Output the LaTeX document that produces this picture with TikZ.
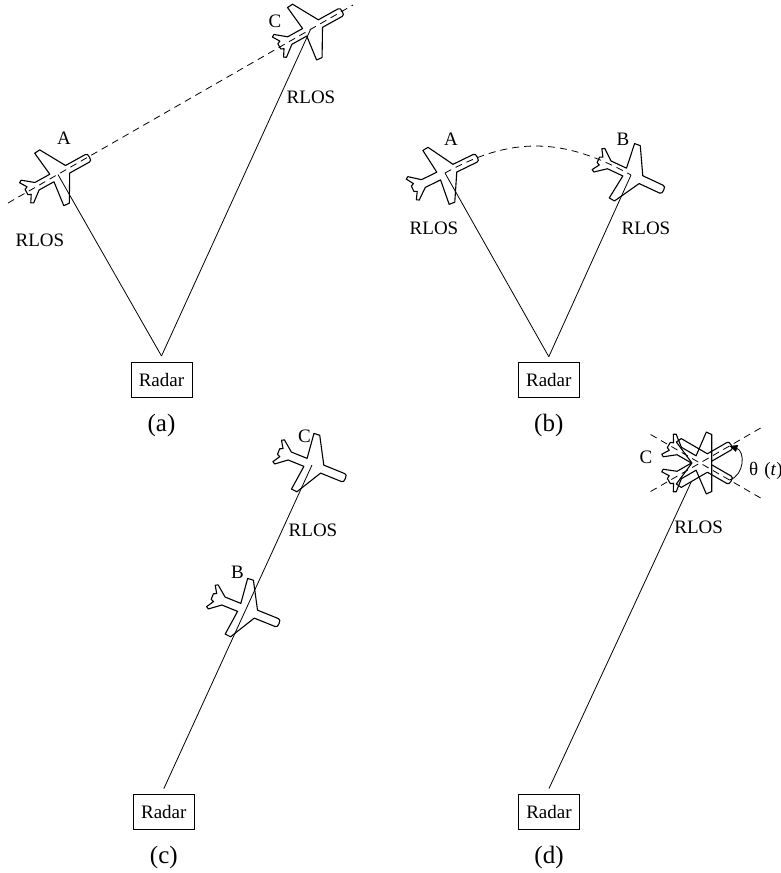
\documentclass[tikz,border=0pt]{standalone}
\usepackage{fontspec}
\setmainfont{Liberation Serif}
\usetikzlibrary{arrows.meta}
\newcommand\myplanepath{(36,0) -- (35.5,3.2) -- (33.5,4.3) -- (11,4.3) -- (-4,30.5) -- (-10,30) -- (-7,4.3) -- (-24,4.3) -- (-35,13) -- (-37.5,11.5) -- (-33,4.3) -- (-36,3) -- (-36,-3) -- (-33,-4.3) -- (-37.5,-11.5) -- (-35,-13) -- (-24,-4.3) -- (-7,-4.3) -- (-10,-30) -- (-4,-30.5) -- (11,-4.3) -- (33.5,-4.3) -- (35.5,-3.2) -- cycle}
\begin{document}
\begin{tikzpicture}[x=1pt,y=-1pt,
  rlos/.style={line width=0.8pt},
  traj/.style={line width=0.8pt, dash pattern=on 7pt off 5pt},
  radarbox/.style={draw, line width=0.8pt, minimum width=61pt, minimum height=35pt, inner sep=0pt, outer xsep=0pt, outer ysep=6pt, font=\fontsize{19}{22}\selectfont},
  lbl/.style={inner sep=0pt, font=\fontsize{19}{22}\selectfont},
  subcap/.style={inner sep=0pt, font=\fontsize{25}{30}\selectfont},
  plane/.pic={\filldraw[fill=white, line width=1.1pt, line join=round] \myplanepath;},
  planefill/.pic={\fill[white] \myplanepath;},
  planeline/.pic={\draw[line width=1.1pt, line join=round] \myplanepath;}]
\useasboundingbox (0,0) rectangle (780,873);

% ---------- (a) ----------
\coordinate (Aa) at (58,174.6);
\coordinate (Ca) at (310.8,28.9);
\pic[rotate=29] at (Aa) {plane};
\pic[rotate=29] at (Ca) {plane};
\node[radarbox] (Ra) at (161.5,379.5) {Radar};
\draw[rlos] (Ra.north) -- (Aa);
\draw[rlos] (Ra.north) -- (Ca);
\coordinate (da1) at (8,203);
\coordinate (da2) at (353,5);
\draw[traj] (da1) -- (da2);
\node[lbl] (la) at (64,138) {A};
\node[lbl] (lc) at (275,21) {C};
\node[lbl] (rlos1) at (40,240) {RLOS};
\node[lbl] (rlos2) at (311,97.5) {RLOS};
\node[subcap] (capa) at (161.5,425) {(a)};

% ---------- (b) ----------
\coordinate (Ab) at (445,173);
\coordinate (Bb) at (631,175);
\pic[rotate=26] at (Ab) {plane};
\pic[rotate=-25] at (Bb) {plane};
\node[radarbox] (Rb) at (548.8,380.2) {Radar};
\draw[rlos] (Rb.north) -- (Ab);
\draw[rlos] (Rb.north) -- (Bb);
\draw[traj] (Ab) .. controls +(67.3,-37.3) and +(-67.3,-37.3) .. (Bb);
\node[lbl] (lab) at (451,139) {A};
\node[lbl] (lbb) at (623,139) {B};
\node[lbl] (rlos3) at (434,228) {RLOS};
\node[lbl] (rlos4) at (646,228) {RLOS};
\node[subcap] (capb) at (548.8,425) {(b)};

% ---------- (c) ----------
\coordinate (Cc) at (312,465);
\coordinate (Bc) at (245.7,610);
\pic[rotate=-22] at (Cc) {plane};
\pic[rotate=-22] at (Bc) {plane};
\node[radarbox] (Rc) at (163.8,812.2) {Radar};
\draw[rlos] (Rc.north) -- (Cc);
\node[lbl] (lcc) at (304.5,436) {C};
\node[lbl] (lbc) at (237.5,572) {B};
\node[lbl] (rlos5) at (313,530) {RLOS};
\node[subcap] (capc) at (163.8,857) {(c)};

% ---------- (d) ----------
\coordinate (Cd) at (700,463);
\node[radarbox] (Rd) at (549,812) {Radar};
\draw[rlos] (Rd.north) -- (Cd);
\pic[rotate=-30] at (Cd) {planefill};
\pic[rotate=30] at (Cd) {planefill};
\pic[rotate=-30] at (Cd) {planeline};
\pic[rotate=30] at (Cd) {planeline};
\coordinate (dd1) at (650.6,434.5);
\coordinate (dd2) at (761.5,498.5);
\coordinate (dd3) at (650.6,491.5);
\coordinate (dd4) at (763.2,426.5);
\draw[traj] (dd1) -- (dd2);
\draw[traj] (dd3) -- (dd4);
\coordinate (th1) at (729.4,480);
\coordinate (th2) at (729.4,446);
\draw[line width=0.8pt, -{Triangle[length=8pt,width=7pt]}] (th1) .. controls (745,475) and (745,451) .. (th2);
\node[lbl, anchor=base west] (theta) at (749,475) {θ\hspace{6pt}(\textit{t})};
\node[lbl] (lcd) at (646,457.5) {C};
\node[lbl] (rlos6) at (698.7,527) {RLOS};
\node[subcap] (capd) at (549,857) {(d)};
\end{tikzpicture}
\end{document}
